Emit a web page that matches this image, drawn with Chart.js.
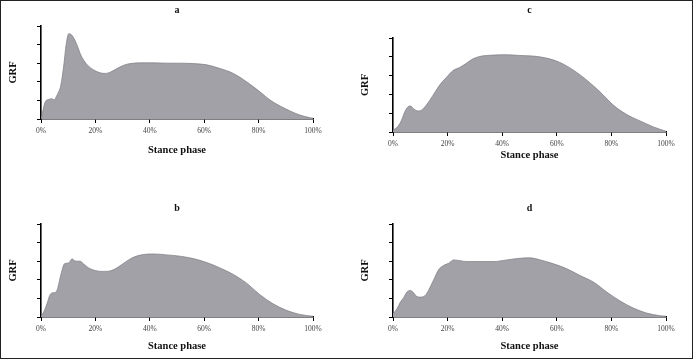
<!DOCTYPE html>
<html>
<head>
<meta charset="utf-8">
<script src="https://cdn.jsdelivr.net/npm/chart.js@4.4.1/dist/chart.umd.min.js"></script>
<style>
    body { margin: 0; background: #fff; }
    #frame { position: absolute; left: 0; top: 0; width: 693px; height: 359px; box-sizing: border-box; border: 1px solid #222; }
    canvas { position: absolute; }
</style>
</head>
<body>
<div id="frame"></div>
<canvas id="panelA" width="347" height="180" style="left:0;top:0"></canvas>
<canvas id="panelC" width="347" height="180" style="left:347px;top:0"></canvas>
<canvas id="panelB" width="347" height="180" style="left:0;top:180px"></canvas>
<canvas id="panelD" width="347" height="180" style="left:347px;top:180px"></canvas>
<script>
// Stance phase (%) and GRF (arbitrary units, axis 0-5)
const aX = [0, 1.6, 2.8, 4.0, 4.9, 5.6, 6.5, 7.3, 8.3, 9.3, 10.2, 11, 12.2, 13.5, 14.4, 15.7, 17.5, 20, 21.8, 23.6, 25.5, 27.9, 30.4, 32.8, 36.5, 41.4, 46.3, 51.2, 56, 61, 65.9, 70.7, 75.6, 80.5, 84.2, 87.9, 91.6, 95.2, 98.3, 100];
const aY = [0, 0.93, 1.05, 1.09, 1.02, 1.2, 1.46, 1.82, 2.8, 4.05, 4.59, 4.55, 4.32, 3.88, 3.52, 3.16, 2.84, 2.59, 2.48, 2.45, 2.52, 2.71, 2.89, 2.98, 3.02, 3.02, 3.0, 3.0, 2.98, 2.91, 2.71, 2.45, 2.0, 1.46, 1.02, 0.70, 0.43, 0.21, 0.09, 0.04];

const bX = [0, 1, 2.2, 3.2, 4, 5.3, 6.1, 6.8, 7.7, 8.6, 9.5, 10.5, 11.4, 12.2, 13.2, 14.4, 15.6, 17.5, 19.9, 22.4, 24.8, 27.3, 29.7, 32.2, 34.6, 37.7, 41.3, 46.2, 51.1, 56, 60.9, 65.8, 70.7, 75.6, 80.4, 85.3, 90.2, 95.1, 100];
const bY = [0.04, 0.27, 0.71, 1.16, 1.29, 1.32, 1.52, 1.96, 2.5, 2.86, 2.89, 2.95, 3.13, 3.04, 3.0, 3.0, 2.86, 2.64, 2.5, 2.45, 2.46, 2.59, 2.82, 3.07, 3.25, 3.36, 3.39, 3.34, 3.27, 3.14, 2.93, 2.64, 2.29, 1.82, 1.21, 0.71, 0.36, 0.14, 0.04];

const cX = [0, 1.8, 3.1, 4.3, 5.5, 6.4, 7.6, 9.2, 10.4, 12.2, 14.7, 17.1, 19.6, 22, 24.4, 26.9, 29.3, 31.8, 36.7, 41.6, 46.5, 51.3, 56.2, 61.1, 66, 70.9, 75.8, 80.7, 85.6, 90.5, 95.4, 100];
const cY = [0.09, 0.3, 0.62, 1.07, 1.34, 1.38, 1.23, 1.12, 1.16, 1.43, 1.96, 2.5, 2.91, 3.27, 3.43, 3.66, 3.89, 4.02, 4.09, 4.11, 4.07, 4.04, 3.93, 3.7, 3.3, 2.77, 2.14, 1.43, 0.93, 0.59, 0.27, 0.04];

const dX = [0, 1.5, 2.7, 3.9, 5.1, 6.3, 7.3, 8.5, 10, 11.8, 13, 14.9, 16.7, 18.5, 20.4, 22.2, 24, 27.1, 32, 36.8, 41.7, 46.6, 50.2, 53.9, 58.8, 63.7, 68.5, 73.4, 78.3, 83.2, 88, 92.9, 97.8, 100];
const dY = [0.18, 0.45, 0.8, 1.04, 1.34, 1.43, 1.34, 1.13, 1.07, 1.16, 1.43, 2.0, 2.54, 2.77, 2.89, 3.07, 3.04, 2.98, 2.98, 2.98, 3.07, 3.16, 3.18, 3.07, 2.86, 2.59, 2.23, 1.88, 1.34, 0.86, 0.48, 0.21, 0.07, 0.04];

const xTicks = [0, 20, 40, 60, 80, 100];
const serif = 'Liberation Serif';

function makePanel(id, letter, xs, ys, g) {
    const canvas = document.getElementById(id);
    const W = canvas.width, H = canvas.height;
    new Chart(canvas.getContext('2d'), {
        type: 'line',
        data: {
            datasets: [{
                data: xs.map((x, i) => ({ x: x, y: ys[i] })),
                fill: 'origin',
                backgroundColor: '#a2a1a8',
                borderColor: '#7a7a80',
                borderWidth: 0.7,
                pointRadius: 0,
                cubicInterpolationMode: 'monotone'
            }]
        },
        options: {
            responsive: false,
            animation: false,
            layout: { padding: { left: 0, right: W - g.right, top: 0, bottom: 0 } },
            plugins: {
                legend: { display: false },
                tooltip: { enabled: false },
                title: {
                    display: true,
                    text: letter,
                    fullSize: false,
                    color: '#111',
                    font: { family: serif, size: 10, weight: 'bold', lineHeight: 1.2 },
                    padding: { top: g.titleY - 6, bottom: g.top - g.titleY - 6 }
                }
            },
            scales: {
                x: {
                    type: 'linear',
                    min: 0,
                    max: 100,
                    afterBuildTicks: s => { s.ticks = xTicks.map(v => ({ value: v })); },
                    afterFit: s => { s.height = H - g.bottom; },
                    ticks: {
                        color: '#444',
                        padding: g.tickPad,
                        maxRotation: 0,
                        font: { family: serif, size: 7.5 },
                        callback: v => v + '%'
                    },
                    grid: { drawOnChartArea: false, drawTicks: true, tickLength: 4, color: '#000', lineWidth: 1 },
                    border: { color: '#000', width: 1.6 },
                    title: {
                        display: true,
                        text: 'Stance phase',
                        color: '#111',
                        font: { family: serif, size: 10.5, weight: 'bold', lineHeight: 1.2 },
                        padding: { top: 0, bottom: H - g.xTitleY - 6.3 }
                    }
                },
                y: {
                    min: 0,
                    max: 5,
                    ticks: { stepSize: 1, display: false },
                    afterFit: s => { s.width = g.left; },
                    grid: { drawOnChartArea: false, drawTicks: true, tickLength: 4, color: '#000', lineWidth: 1 },
                    border: { color: '#000', width: 1.6 },
                    title: {
                        display: true,
                        text: 'GRF',
                        color: '#111',
                        font: { family: serif, size: 10.5, weight: 'bold', lineHeight: 1.2 },
                        padding: { top: g.grfX - 6.3, bottom: 0 }
                    }
                }
            }
        }
    });
}

makePanel('panelA', 'a', aX, aY, { left: 41, right: 313, top: 26, bottom: 119, titleY: 10, tickPad: 4, xTitleY: 150, grfX: 13 });
makePanel('panelC', 'c', cX, cY, { left: 46, right: 319, top: 38, bottom: 132, titleY: 10, tickPad: 4, xTitleY: 155, grfX: 18 });
makePanel('panelB', 'b', bX, bY, { left: 41, right: 313, top: 44, bottom: 137, titleY: 28, tickPad: 4, xTitleY: 166, grfX: 13 });
makePanel('panelD', 'd', dX, dY, { left: 46, right: 319, top: 44, bottom: 137, titleY: 28, tickPad: 4, xTitleY: 166, grfX: 18 });
</script>
</body>
</html>
